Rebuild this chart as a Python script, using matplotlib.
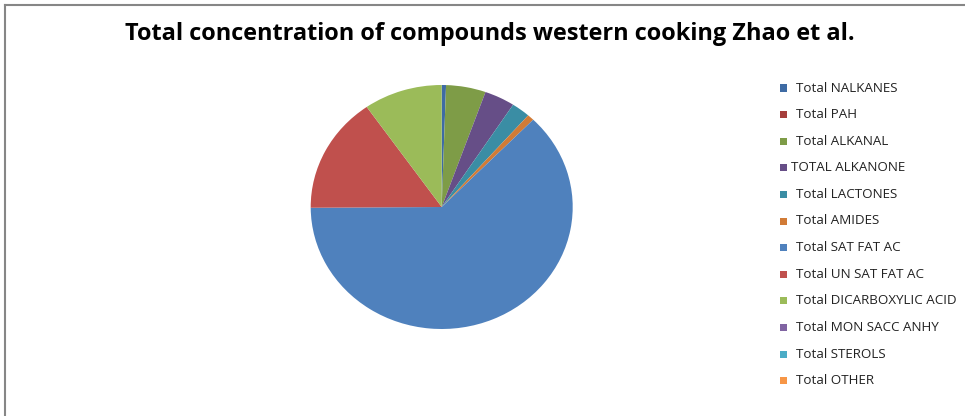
import matplotlib
matplotlib.use('Agg')
import matplotlib.pyplot as plt
from matplotlib.patches import Rectangle
from matplotlib.lines import Line2D

# share of each compound group (%)
categories = [
    'Total NALKANES', 'Total PAH', 'Total ALKANAL', 'TOTAL ALKANONE',
    'Total LACTONES', 'Total AMIDES', 'Total SAT FAT AC', 'Total UN SAT FAT AC',
    'Total DICARBOXYLIC ACID', 'Total MON SACC ANHY', 'Total STEROLS', 'Total OTHER',
]
values = [0.53, 0.0, 4.9, 3.75, 2.3, 0.83, 62.6, 15.4, 9.7, 0.0, 0.0, 0.0]
colors = [
    '#3E6BA4', '#A53E3B', '#7E9C47', '#664E87', '#3A8DA4', '#D17B36',
    '#4F81BD', '#C0504D', '#9BBB59', '#8064A2', '#4BACC6', '#F79646',
]

W, H = 965, 416
fig = plt.figure(figsize=(W / 100, H / 100), dpi=100)
fig.patch.set_facecolor('white')

# pie area (slightly wider than tall)
cx, cy, rx, ry = 441.7, 207, 131, 122
ax = fig.add_axes([(cx - rx) / W, (H - cy - ry) / H, 2 * rx / W, 2 * ry / H])
wedges, _ = ax.pie(values, colors=colors, startangle=90, counterclock=False,
                   wedgeprops=dict(linewidth=0))
ax.set_aspect('auto')
ax.set_xlim(-1, 1)
ax.set_ylim(-1, 1)
ax.axis('off')

title = fig.text(490 / W, 1 - 34 / H, 'Total concentration of compounds western cooking Zhao et al.',
                 ha='center', va='center', fontsize=16, fontweight='bold',
                 family='Open Sans', color='black')
# fit title width
fig.canvas.draw()
bb = title.get_window_extent()
title.set_fontsize(16 * 730 / bb.width)

# legend drawn as squares + labels
y0, step = 88, 26.6
for i, (lab, col) in enumerate(zip(categories, colors)):
    y = y0 + i * step
    fig.patches.append(Rectangle((779.5 / W, 1 - (y + 3.5) / H), 7 / W, 7 / H,
                                 transform=fig.transFigure, facecolor=col,
                                 edgecolor='none'))
    xt = 791 if lab.startswith('TOTAL') else 795.5
    fig.text(xt / W, 1 - y / H, lab, ha='left', va='center', fontsize=9.6,
             family='Open Sans', color='#222222')

# chart border (top and left)
fig.add_artist(Line2D([4.5 / W, 4.5 / W], [0, 1 - 4.5 / H], transform=fig.transFigure,
                      color='#868686', linewidth=1.5))
fig.add_artist(Line2D([4.5 / W, 1], [1 - 4.5 / H, 1 - 4.5 / H], transform=fig.transFigure,
                      color='#868686', linewidth=1.5))

fig.savefig('out.png', dpi=100, facecolor='white')
